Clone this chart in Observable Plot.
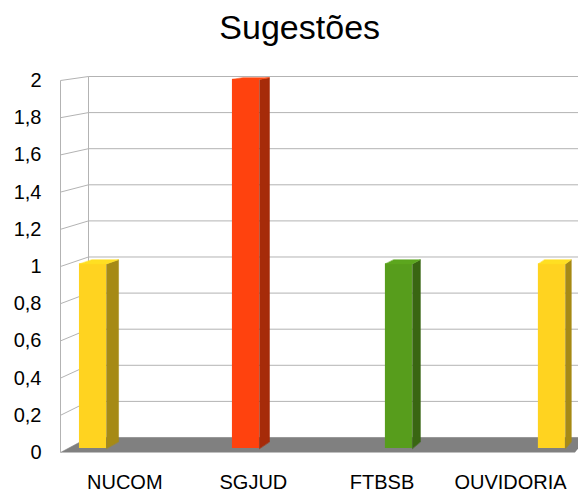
<!DOCTYPE html>
<html>
<head>
<meta charset="utf-8">
<script src="https://cdn.jsdelivr.net/npm/d3@7"></script>
<script src="https://cdn.jsdelivr.net/npm/@observablehq/plot@0.6"></script>
<style>
  body { margin: 0; background: #ffffff; }
</style>
</head>
<body>
<div id="chart"></div>
<script>
// ---- data ----
const title = "Sugestões";
const categories = ["NUCOM", "SGJUD", "FTBSB", "OUVIDORIA"];
const values = [1, 2, 1, 1];
const barColors = ["#ffd320", "#ff420e", "#579d1c", "#ffd320"];
const yTicks = [0, 0.2, 0.4, 0.6, 0.8, 1, 1.2, 1.4, 1.6, 1.8, 2];

// ---- simple 3D perspective model (in data units) ----
const yMax = 2;
const FLOOR_U = categories.length;      // floor spans one band per category
const VP = [7.356, 2.726];              // vanishing point (x units, y units)
const K = 0.0296;                       // shrink factor at back wall (z = 1)
const BAR_Z = [0.267, 0.716];           // bar front / back depth
const BAR_START = 0.196, BAR_STEP = 1.199, BAR_HALF = 0.106;

function P(u, v, z) {
  const s = 1 - K * z;
  return { x: VP[0] + (u - VP[0]) * s, y: VP[1] + (v - VP[1]) * s };
}

// walls
const backGrid = yTicks.map(t => {
  const a = P(0, t, 1), b = P(FLOOR_U, t, 1);
  return { x1: a.x, y1: a.y, x2: b.x, y2: b.y };
});
const sideGrid = yTicks.map(t => {
  const a = P(0, t, 0), b = P(0, t, 1);
  return { x1: a.x, y1: a.y, x2: b.x, y2: b.y };
});
const edges = [[P(0, 0, 1), P(0, yMax, 1)], [P(0, 0, 0), P(0, yMax, 0)]]
  .map(([a, b]) => ({ x1: a.x, y1: a.y, x2: b.x, y2: b.y }));

const floorPoly = [P(0, 0, 0), P(0, 0, 1), P(FLOOR_U, 0, 1), P(FLOOR_U, 0, 0)]
  .map(p => ({ ...p, id: "floor" }));

// bars
const bars = categories.map((c, i) => {
  const uc = BAR_START + i * BAR_STEP;
  return { c, v: values[i], uL: uc - BAR_HALF, uR: uc + BAR_HALF, color: barColors[i] };
});
const fronts = bars.map(b => {
  const a = P(b.uL, 0, BAR_Z[0]), t = P(b.uR, b.v, BAR_Z[0]);
  return { x1: a.x, x2: t.x, y1: a.y, y2: t.y, fill: b.color };
});
const faces = [];
bars.forEach((b, i) => {
  const side = d3.color(b.color).darker(1.2).formatHex();
  const top = d3.color(b.color).brighter(0.15).formatHex();
  [P(b.uR, 0, BAR_Z[0]), P(b.uR, b.v, BAR_Z[0]), P(b.uR, b.v, BAR_Z[1]), P(b.uR, 0, BAR_Z[1])]
    .forEach(p => faces.push({ ...p, id: "s" + i, fill: side }));
  [P(b.uL, b.v, BAR_Z[0]), P(b.uR, b.v, BAR_Z[0]), P(b.uR, b.v, BAR_Z[1]), P(b.uL, b.v, BAR_Z[1])]
    .forEach(p => faces.push({ ...p, id: "t" + i, fill: top }));
});

const grid = "#b3b3b3";
const chart = Plot.plot({
  width: 578,
  height: 493,
  marginLeft: 60,
  marginRight: 3.6,
  marginTop: 80,
  marginBottom: 41,
  x: { domain: [0, FLOOR_U] },
  y: { domain: [0, yMax] },
  color: { type: "identity" },
  style: { fontFamily: "'Liberation Sans', Arial, sans-serif", fontSize: "20px", background: "#ffffff", color: "#000000" },
  marks: [
    Plot.link(backGrid, { x1: "x1", y1: "y1", x2: "x2", y2: "y2", stroke: grid, strokeWidth: 1 }),
    Plot.link(sideGrid, { x1: "x1", y1: "y1", x2: "x2", y2: "y2", stroke: grid, strokeWidth: 1 }),
    Plot.link(edges, { x1: "x1", y1: "y1", x2: "x2", y2: "y2", stroke: grid, strokeWidth: 1 }),
    Plot.line(floorPoly, { x: "x", y: "y", z: "id", fill: "#808080", stroke: "none", curve: "linear-closed" }),
    Plot.rect(fronts, { x1: "x1", x2: "x2", y1: "y1", y2: "y2", fill: "fill" }),
    Plot.line(faces, { x: "x", y: "y", z: "id", fill: "fill", stroke: "fill", strokeWidth: 0.5, curve: "linear-closed" }),
    Plot.axisY({ ticks: yTicks, tickSize: 0, tickPadding: 19, tickFormat: d => String(d).replace(".", ","), fontSize: 20 }),
    Plot.axisX({ ticks: categories.map((_, i) => i + 0.5), tickSize: 0, tickPadding: 22, tickFormat: d => categories[Math.floor(d)], fontSize: 20, label: null }),
    Plot.text([title], { frameAnchor: "top", dy: -42, dx: -18, lineAnchor: "bottom", fontSize: 34, fill: "#000000" })
  ]
});
document.getElementById("chart").appendChild(chart);
</script>
</body>
</html>
